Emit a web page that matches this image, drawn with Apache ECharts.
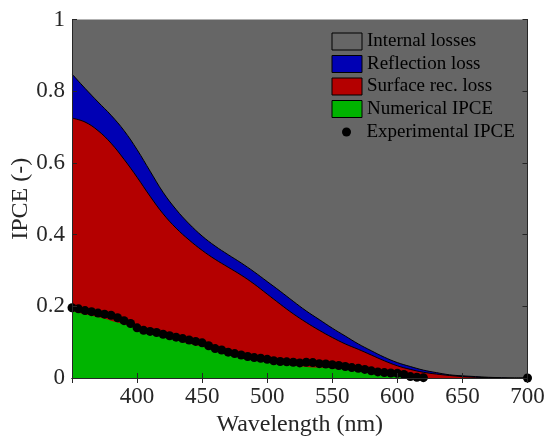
<!DOCTYPE html>
<html>
<head>
<meta charset="utf-8">
<title>IPCE losses</title>
<script src="https://cdn.jsdelivr.net/npm/echarts@6/dist/echarts.min.js"></script>
<style>
  html, body { margin: 0; padding: 0; background: #fff; }
  #chart { width: 547px; height: 437px; }
</style>
</head>
<body>
<div id="chart"></div>
<script>
// wavelength grid for the simulated curves (nm)
const wavelengths = [350, 360, 370, 380, 390, 400, 410, 420, 430, 440, 450, 460, 470, 480, 490, 500,
  510, 520, 530, 540, 550, 560, 570, 580, 590, 600, 610, 620, 630, 640, 650, 660, 670, 680, 690, 700];

// top of the reflection loss band
const reflectionTop = [0.848, 0.808, 0.770, 0.733, 0.690, 0.637, 0.577, 0.518, 0.470, 0.430, 0.396, 0.368,
  0.344, 0.321, 0.296, 0.269, 0.242, 0.214, 0.187, 0.163, 0.139, 0.117, 0.095, 0.076, 0.058, 0.043,
  0.032, 0.022, 0.015, 0.009, 0.006, 0.004, 0.002, 0.001, 0, 0];

// top of the surface recombination band
const surfaceTop = [0.725, 0.714, 0.690, 0.655, 0.610, 0.560, 0.507, 0.458, 0.418, 0.385, 0.356, 0.331,
  0.309, 0.287, 0.262, 0.234, 0.206, 0.179, 0.155, 0.133, 0.113, 0.095, 0.080, 0.064, 0.048, 0.034,
  0.024, 0.016, 0.011, 0.007, 0.004, 0.002, 0.001, 0, 0, 0];

// numerical IPCE
const numericalIpce = [0.187, 0.178, 0.170, 0.160, 0.150, 0.139, 0.128, 0.117, 0.106, 0.096, 0.087, 0.078,
  0.068, 0.059, 0.051, 0.044, 0.039, 0.034, 0.031, 0.029, 0.027, 0.025, 0.022, 0.016, 0.009, 0.005,
  0.002, 0, 0, 0, 0, 0, 0, 0, 0, 0];

// experimental points
const expWavelengths = [350, 355, 360, 365, 370, 375, 380, 385, 390, 395, 400, 405, 410, 415, 420, 425,
  430, 435, 440, 445, 450, 455, 460, 465, 470, 475, 480, 485, 490, 495, 500, 505, 510, 515, 520, 525,
  530, 535, 540, 545, 550, 555, 560, 565, 570, 575, 580, 585, 590, 595, 600, 605, 610, 615, 620, 700];
const expIpce = [0.196, 0.193, 0.188, 0.185, 0.181, 0.178, 0.175, 0.168, 0.160, 0.152, 0.140, 0.133,
  0.130, 0.127, 0.122, 0.118, 0.114, 0.110, 0.106, 0.102, 0.098, 0.090, 0.082, 0.078, 0.072, 0.068,
  0.064, 0.060, 0.057, 0.055, 0.052, 0.048, 0.046, 0.045, 0.044, 0.042, 0.044, 0.043, 0.040, 0.039,
  0.037, 0.035, 0.032, 0.029, 0.027, 0.024, 0.020, 0.017, 0.015, 0.014, 0.013, 0.010, 0.004, 0.002,
  0.001, 0.0];

const FONT = 'Liberation Serif';
const AXIS_COLOR = '#262626';
const GRAY = '#666666';
const BLUE = '#0000b4';
const RED = '#b40000';
const GREEN = '#00b400';

function pairs(xs, ys) {
  return xs.map((x, i) => [x, ys[i]]);
}

const chart = echarts.init(document.getElementById('chart'), null, { renderer: 'canvas' });

// shared axis look (box with inward ticks on all sides)
const tickStyle = { show: true, inside: true, length: 5, lineStyle: { color: AXIS_COLOR, width: 1 } };
const lineStyle = { show: true, lineStyle: { color: AXIS_COLOR, width: 1 } };
const legendText = { fontFamily: FONT, fontSize: 19, color: '#000' };

let option = {
  animation: false,
  backgroundColor: '#fff',
  grid: {
    left: 72, right: 19.5, top: 19.5, bottom: 59,
    outerBoundsMode: 'none',
    show: true, backgroundColor: GRAY, borderWidth: 0
  },
  xAxis: [
    {
      type: 'value', min: 350, max: 700, interval: 50, z: 10,
      axisLine: lineStyle, axisTick: tickStyle, splitLine: { show: false },
      axisLabel: {
        fontFamily: FONT, fontSize: 23, color: AXIS_COLOR, margin: 7,
        formatter: v => (v === 350 ? '' : String(v))
      },
      name: 'Wavelength (nm)', nameLocation: 'middle', nameGap: 35,
      nameTextStyle: { fontFamily: FONT, fontSize: 24, color: AXIS_COLOR }
    },
    {
      type: 'value', position: 'top', min: 350, max: 700, interval: 50, z: 10,
      axisLine: lineStyle, axisTick: tickStyle, axisLabel: { show: false }, splitLine: { show: false }
    }
  ],
  yAxis: [
    {
      type: 'value', min: 0, max: 1, interval: 0.2, z: 10,
      axisLine: lineStyle, axisTick: tickStyle, splitLine: { show: false },
      axisLabel: { fontFamily: FONT, fontSize: 23, color: AXIS_COLOR, margin: 7 },
      name: 'IPCE (-)', nameLocation: 'middle', nameGap: 39, nameMoveOverlap: false,
      nameTextStyle: { fontFamily: FONT, fontSize: 24, color: AXIS_COLOR }
    },
    {
      type: 'value', position: 'right', min: 0, max: 1, interval: 0.2, z: 10,
      axisLine: lineStyle, axisTick: tickStyle, axisLabel: { show: false }, splitLine: { show: false }
    }
  ],
  legend: [
    {
      orient: 'vertical', left: 331.5, top: 32, padding: 0,
      itemWidth: 30, itemHeight: 17, itemGap: 3.5,
      textStyle: legendText,
      selectedMode: false,
      data: [
        { name: 'Internal losses', icon: 'rect', itemStyle: { color: GRAY, borderColor: '#000', borderWidth: 1 } },
        { name: 'Reflection loss', icon: 'rect', itemStyle: { color: BLUE, borderColor: '#000', borderWidth: 1 } },
        { name: 'Surface rec. loss', icon: 'rect', itemStyle: { color: RED, borderColor: '#000', borderWidth: 1 } },
        { name: 'Numerical IPCE', icon: 'rect', itemStyle: { color: GREEN, borderColor: '#000', borderWidth: 1 } }
      ]
    },
    {
      // the dot sits in the middle of a 30px slot, the group is shifted by the empty part
      orient: 'vertical', left: 342, top: 122.5, padding: 0,
      itemWidth: 30, itemHeight: 9,
      textStyle: legendText,
      selectedMode: false,
      data: [{ name: 'Experimental IPCE', icon: 'circle', itemStyle: { color: '#000', borderWidth: 0 } }]
    }
  ],
  series: [
    {
      // only here so the legend has an entry for the gray background
      name: 'Internal losses', type: 'line', data: [],
      itemStyle: { color: GRAY }
    },
    {
      name: 'Reflection loss', type: 'line', smooth: 0.4, showSymbol: false,
      data: pairs(wavelengths, reflectionTop),
      itemStyle: { color: BLUE },
      lineStyle: { color: '#000', width: 1 },
      areaStyle: { color: BLUE, opacity: 1, origin: 'start' }
    },
    {
      name: 'Surface rec. loss', type: 'line', smooth: 0.4, showSymbol: false,
      data: pairs(wavelengths, surfaceTop),
      itemStyle: { color: RED },
      lineStyle: { color: '#000', width: 1 },
      areaStyle: { color: RED, opacity: 1, origin: 'start' }
    },
    {
      name: 'Numerical IPCE', type: 'line', smooth: 0.4, showSymbol: false,
      data: pairs(wavelengths, numericalIpce),
      itemStyle: { color: GREEN },
      lineStyle: { width: 0 },
      areaStyle: { color: GREEN, opacity: 1, origin: 'start' }
    },
    {
      name: 'Experimental IPCE', type: 'scatter', symbol: 'circle', symbolSize: 9,
      data: pairs(expWavelengths, expIpce),
      itemStyle: { color: '#000', opacity: 1 },
      clip: false, z: 5
    }
  ]
};

chart.setOption(option);
</script>
</body>
</html>
